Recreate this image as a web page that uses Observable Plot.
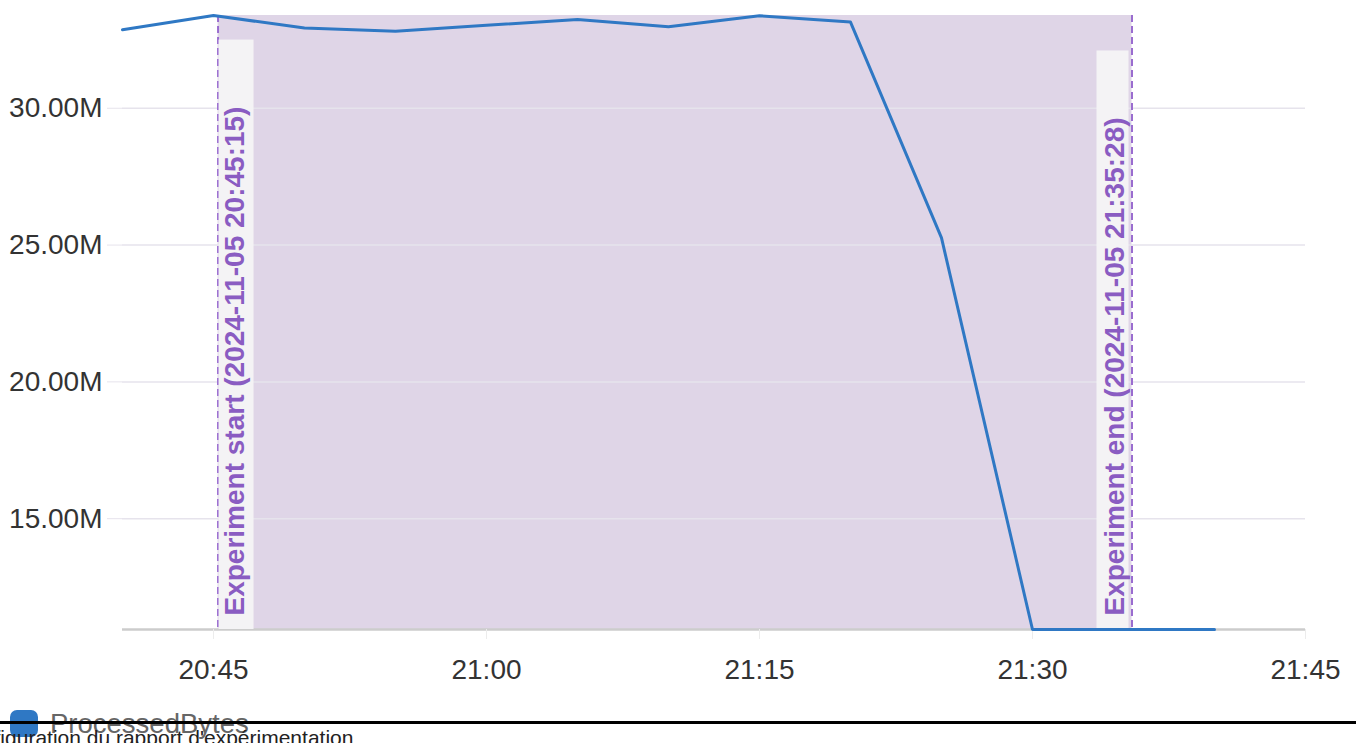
<!DOCTYPE html>
<html>
<head>
<meta charset="utf-8">
<script src="https://cdn.jsdelivr.net/npm/d3@7"></script>
<script src="https://cdn.jsdelivr.net/npm/@observablehq/plot@0.6"></script>
<style>
  html, body { margin: 0; padding: 0; background: #fff; }
  body { width: 1356px; height: 743px; overflow: hidden; position: relative; font-family: "Liberation Sans", Arial, sans-serif; }
  #chart { position: absolute; left: 0; top: 0; }
  #legend { position: absolute; left: 10px; top: 710px; display: flex; align-items: flex-start; font-size: 27.5px; line-height: 27px; color: #666; }
  #legend .sw { width: 28px; height: 27px; border-radius: 7px; background: #2f78c4; margin-right: 12px; }
  #rule { position: absolute; left: 0; top: 721px; width: 1356px; height: 3px; background: #000; }
  #caption { position: absolute; left: -44px; top: 727px; font-size: 21px; line-height: 21px; color: #222; white-space: nowrap; }
</style>
</head>
<body>
<div id="chart"></div>
<div id="legend"><div class="sw"></div><span id="legendLabel"></span></div>
<div id="rule"></div>
<div id="caption"></div>
<script>
// ---- data ----
const seriesName = "ProcessedBytes";
const times = ["20:40","20:45","20:50","20:55","21:00","21:05","21:10","21:15","21:20","21:25","21:30","21:35","21:40"];
const valuesM = [32.87, 33.39, 32.93, 32.81, 33.03, 33.24, 32.98, 33.38, 33.15, 25.26, 10.95, 10.95, 10.95];
const yTicksM = [15, 20, 25, 30];
const xTickLabels = ["20:45", "21:00", "21:15", "21:30", "21:45"];
const eventNames = ["Experiment start", "Experiment end"];
const eventTimes = ["2024-11-05 20:45:15", "2024-11-05 21:35:28"];
const day = "2024-11-05";
const xDomainLabels = ["20:40", "21:45"];
const captionText = "Configuration du rapport d'expérimentation";

// ---- build ----
const toDate = (d, t) => new Date(`${d}T${t.length === 5 ? t + ":00" : t}Z`);
const data = times.map((t, i) => ({ time: toDate(day, t), value: valuesM[i] * 1e6 }));
const events = eventNames.map((n, i) => {
  const [d, t] = eventTimes[i].split(" ");
  return { name: n, time: toDate(d, t), label: `${n} (${eventTimes[i]})`, side: i === 0 ? 1 : -1 };
});
const yTicks = yTicksM.map(v => v * 1e6);
const xTicks = xTickLabels.map(t => toDate(day, t));
const yExtent = d3.extent(data, d => d.value);
const fmtTime = d3.utcFormat("%H:%M");

const H = 700, MB = 71;
const plot = Plot.plot({
  width: 1356,
  height: H,
  marginLeft: 122,
  marginRight: 51,
  marginTop: 15,
  marginBottom: MB,
  style: { fontFamily: "Liberation Sans, Arial, sans-serif", background: "transparent" },
  x: { type: "utc", domain: xDomainLabels.map(t => toDate(day, t)) },
  y: { domain: yExtent },
  marks: [
    Plot.rect([{ x1: events[0].time, x2: events[1].time }], { x1: "x1", x2: "x2", fill: "#dfd5e7" }),
    Plot.gridY(yTicks, { stroke: "#e6e3ec", strokeOpacity: 1, strokeWidth: 1.5 }),
    Plot.ruleY([yExtent[0]], { stroke: "#cccccc", strokeWidth: 2.5 }),
    Plot.axisY({
      ticks: yTicks, tickFormat: d => (d / 1e6).toFixed(2) + "M",
      tickSize: 15, tickPadding: 5, fontSize: 28, stroke: "#e6e3ec", strokeOpacity: 1, color: "#333", label: null
    }),
    Plot.axisX({
      ticks: xTicks, tickFormat: fmtTime,
      tickSize: 10, tickPadding: 20, fontSize: 28, stroke: "#ececec", strokeOpacity: 1, color: "#333", label: null
    }),
    Plot.ruleX(events, { x: "time", stroke: "#9a6ccf", strokeWidth: 2, strokeDasharray: "7,4" }),
    Plot.text(events.filter(e => e.side > 0), {
      x: "time", frameAnchor: "bottom", text: "label", rotate: -90, textAnchor: "start",
      dx: 26, dy: -14, fontSize: 28, fontWeight: "bold", fill: "#8a5cc2"
    }),
    Plot.text(events.filter(e => e.side < 0), {
      x: "time", frameAnchor: "bottom", text: "label", rotate: -90, textAnchor: "start",
      dx: -8, dy: -14, fontSize: 28, fontWeight: "bold", fill: "#8a5cc2"
    }),
    Plot.line(data, { x: "time", y: "value", stroke: "#2f78c4", strokeWidth: 3 })
  ]
});
document.getElementById("chart").appendChild(plot);
document.getElementById("legendLabel").textContent = seriesName;
document.getElementById("caption").textContent = captionText;

// label background boxes, placed beside each event rule and sized from the rendered text
const xs = plot.scale("x");
const svgBox = plot.getBoundingClientRect();
const bottomY = H - MB;
plot.querySelectorAll("text").forEach(t => {
  if (!t.textContent.startsWith("Experiment")) return;
  const ev = events.find(e => t.textContent === e.label);
  const lx = xs.apply(ev.time);
  const b = t.getBoundingClientRect();
  const top = b.top - svgBox.top - 67;
  const r = document.createElementNS("http://www.w3.org/2000/svg", "rect");
  r.setAttribute("x", ev.side > 0 ? lx + 1 : lx - 35);
  r.setAttribute("width", ev.side > 0 ? 35 : 32);
  r.setAttribute("y", top);
  r.setAttribute("height", bottomY - top);
  r.setAttribute("fill", "#f4f3f5");
  const g = t.parentNode;
  g.parentNode.insertBefore(r, g);
});
</script>
</body>
</html>
